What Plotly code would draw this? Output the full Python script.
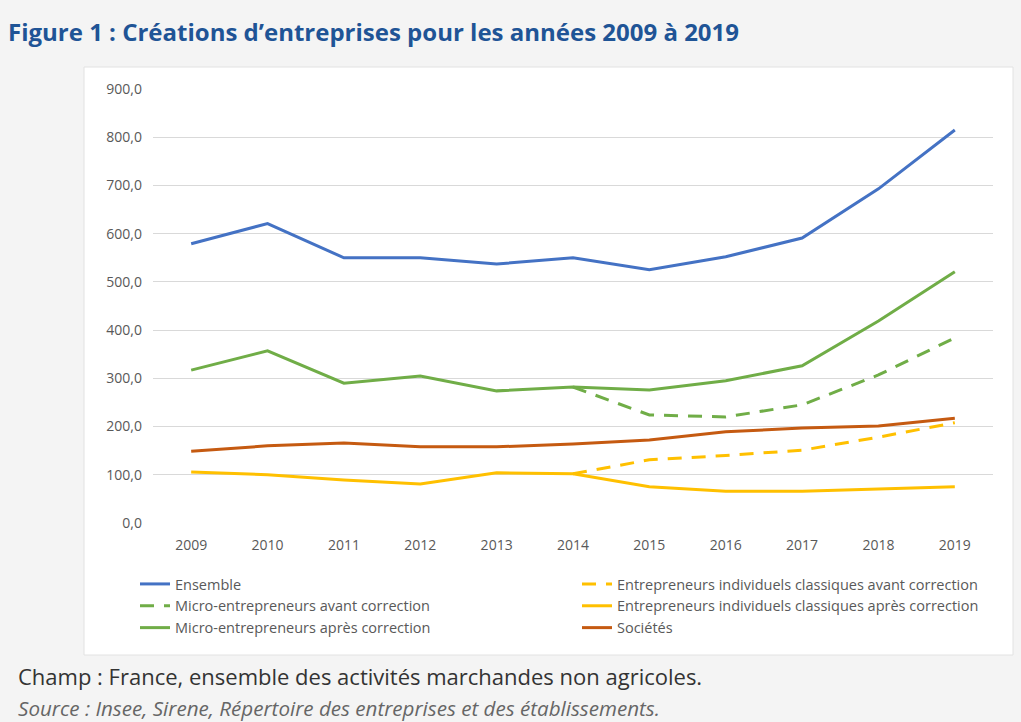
"""Créations d'entreprises 2009-2019 : courbes par catégorie."""
import plotly.graph_objects as go

annees = ["2009", "2010", "2011", "2012", "2013", "2014", "2015", "2016", "2017", "2018", "2019"]

ensemble = [579, 621, 550, 550, 537, 550, 525, 552, 591, 693, 815]
micro_apres = [317, 357, 290, 305, 274, 282, 276, 295, 326, 419, 521]
micro_avant = [None, None, None, None, None, 282, 224, 220, 245, 307, 384]
societes = [149, 160, 166, 158, 158, 164, 172, 189, 197, 201, 217]
ei_apres = [106, 100, 89, 81, 104, 102, 75, 66, 66, 70, 75]
ei_avant = [None, None, None, None, None, 102, 131, 140, 151, 178, 208]

BLEU = "#4472C4"
VERT = "#70AD47"
ORANGE = "#C55A11"
JAUNE = "#FFC000"

# (nom, valeurs, couleur, tirets, rang dans la légende)
series = [
    ("Sociétés", societes, ORANGE, "solid", 6),
    ("Entrepreneurs individuels classiques avant correction", ei_avant, JAUNE, "14px,10px", 2),
    ("Entrepreneurs individuels classiques après correction", ei_apres, JAUNE, "solid", 4),
    ("Micro-entrepreneurs avant correction", micro_avant, VERT, "14px,10px", 3),
    ("Micro-entrepreneurs après correction", micro_apres, VERT, "solid", 5),
    ("Ensemble", ensemble, BLEU, "solid", 1),
]

fig = go.Figure()
for nom, valeurs, couleur, tirets, rang in series:
    fig.add_trace(go.Scatter(
        x=annees, y=valeurs, name=nom, mode="lines",
        line=dict(color=couleur, width=3, dash=tirets),
        legendrank=rang,
    ))

W, H = 1021, 722
L, R, T, B = 153, 993, 89, 523


def px_x(p):
    return (p - L) / (R - L)


def px_y(p):
    return (B - p) / (B - T)


fig.update_layout(
    width=W, height=H,
    margin=dict(l=L, r=W - R, t=T, b=H - B, autoexpand=False),
    paper_bgcolor="#f4f4f4",
    plot_bgcolor="white",
    separators=", ",
    font=dict(family="Open Sans", color="#595959", size=14),
    title=dict(
        text="<b>Figure 1 : Créations d’entreprises pour les années 2009 à 2019</b>",
        font=dict(family="Open Sans", size=24, color="#1f5496"),
        xref="container", x=8 / W, xanchor="left",
        yref="container", y=1 - 33 / H, yanchor="middle",
    ),
    xaxis=dict(
        type="category", range=[-0.5, 10.5], showgrid=False, showline=False,
        ticks="", ticklabelstandoff=12, tickfont=dict(size=14, color="#595959"),
        fixedrange=True,
    ),
    yaxis=dict(
        range=[0, 900], dtick=100, tickformat=".1f", gridcolor="#d9d9d9",
        gridwidth=1, zeroline=False, showline=False, ticks="",
        ticklabelstandoff=10, tickfont=dict(size=14, color="#595959"),
        fixedrange=True,
    ),
    legend=dict(
        orientation="h", x=px_x(135), xanchor="left", y=px_y(568), yanchor="top",
        entrywidth=397, bgcolor="rgba(0,0,0,0)",
        font=dict(size=14.5, color="#595959"),
        traceorder="normal",
    ),
    shapes=[dict(
        type="rect", xref="paper", yref="paper", layer="below",
        x0=px_x(84), x1=px_x(1013), y0=px_y(655), y1=px_y(67),
        fillcolor="white", line=dict(color="#e2e2e2", width=1),
    )],
    annotations=[
        dict(
            text="Champ : France, ensemble des activités marchandes non agricoles.",
            xref="paper", yref="paper", x=px_x(16), y=px_y(676),
            xanchor="left", yanchor="middle", showarrow=False,
            font=dict(family="Open Sans", size=22, color="#333333"),
        ),
        dict(
            text="<i>Source : Insee, Sirene, Répertoire des entreprises et des établissements.</i>",
            xref="paper", yref="paper", x=px_x(16), y=px_y(708),
            xanchor="left", yanchor="middle", showarrow=False,
            font=dict(family="Open Sans", size=20.6, color="#666666"),
        ),
    ],
)

fig.write_html(
    "out.html",
    config={"displayModeBar": False},
    post_script="document.body.style.margin='0';",
)
